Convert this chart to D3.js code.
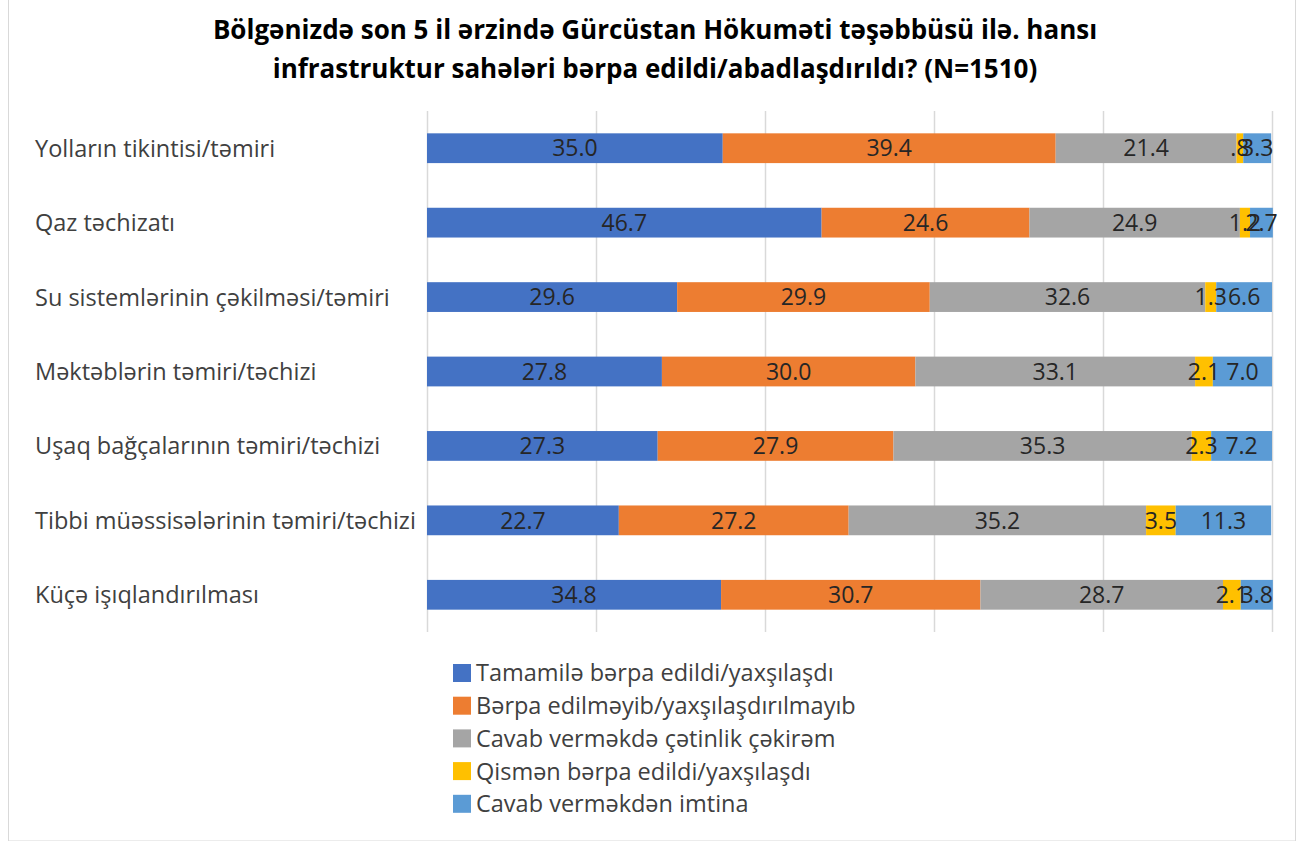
<!DOCTYPE html>
<html>
<head>
<meta charset="utf-8">
<script src="https://cdn.jsdelivr.net/npm/d3@7"></script>
<style>
  body { margin: 0; background: #fff; }
  svg text { font-family: "Open Sans", "Liberation Sans", sans-serif; }
</style>
</head>
<body>
<div id="chart"></div>
<script>
// categories, top to bottom
var categories = [
    "Yolların tikintisi/təmiri",
    "Qaz təchizatı",
    "Su sistemlərinin çəkilməsi/təmiri",
    "Məktəblərin təmiri/təchizi",
    "Uşaq bağçalarının təmiri/təchizi",
    "Tibbi müəssisələrinin təmiri/təchizi",
    "Küçə işıqlandırılması"
];

var seriesNames = [
    "Tamamilə bərpa edildi/yaxşılaşdı",
    "Bərpa edilməyib/yaxşılaşdırılmayıb",
    "Cavab verməkdə çətinlik çəkirəm",
    "Qismən bərpa edildi/yaxşılaşdı",
    "Cavab verməkdən imtina"
];

var tamamile = [35.0, 46.7, 29.6, 27.8, 27.3, 22.7, 34.8];
var berpaEdilmeyib = [39.4, 24.6, 29.9, 30.0, 27.9, 27.2, 30.7];
var cetinlik = [21.4, 24.9, 32.6, 33.1, 35.3, 35.2, 28.7];
var qismen = [0.8, 1.2, 1.3, 2.1, 2.3, 3.5, 2.1];
var imtina = [3.3, 2.7, 6.6, 7.0, 7.2, 11.3, 3.8];

var xTicks = [0, 20, 40, 60, 80, 100];

var colors = ["#4472C4", "#ED7D31", "#A5A5A5", "#FFC000", "#5B9BD5"];

var series = [tamamile, berpaEdilmeyib, cetinlik, qismen, imtina];

var width = 1299, height = 841;
var margin = { top: 111, right: 27, bottom: 209, left: 427 };

var svg = d3.select("#chart")
    .append("svg")
    .attr("width", width)
    .attr("height", height);

// outer frame
svg.append("rect")
    .attr("x", 8.5)
    .attr("y", -2)
    .attr("width", 1287)
    .attr("height", 843)
    .attr("fill", "none")
    .attr("stroke", "#d9d9d9");

// title
var title = svg.append("text")
    .attr("x", 655)
    .attr("y", 39)
    .attr("text-anchor", "middle")
    .attr("fill", "#000")
    .attr("font-weight", "bold")
    .style("font-size", "26px");
title.append("tspan").attr("x", 655).attr("dy", 0)
    .text("Bölgənizdə son 5 il ərzində Gürcüstan Hökuməti təşəbbüsü ilə. hansı");
title.append("tspan").attr("x", 655).attr("dy", 39)
    .text("infrastruktur sahələri bərpa edildi/abadlaşdırıldı? (N=1510)");

var x = d3.scaleLinear()
    .domain([0, 100])
    .range([margin.left, width - margin.right]);

var y = d3.scaleBand()
    .domain(categories)
    .range([margin.top, height - margin.bottom])
    .paddingInner(0.6)
    .paddingOuter(0.3);

// gridlines
svg.append("g")
    .selectAll("line")
    .data(xTicks)
    .join("line")
    .attr("x1", function (d) { return x(d) + 0.5; })
    .attr("x2", function (d) { return x(d) + 0.5; })
    .attr("y1", margin.top)
    .attr("y2", height - margin.bottom)
    .attr("stroke", "#d9d9d9")
    .attr("stroke-width", 1.5);

// stack values
var rows = categories.map(function (c, i) {
    var row = { cat: c };
    series.forEach(function (s, j) { row["s" + j] = s[i]; });
    return row;
});
var stack = d3.stack().keys(series.map(function (s, j) { return "s" + j; }));
var stacked = stack(rows);

var fmt = function (v) {
    var t = d3.format(".1f")(v);
    return v < 1 ? t.replace(/^0/, "") : t;
};

var layers = svg.append("g")
    .selectAll("g")
    .data(stacked)
    .join("g")
    .attr("fill", function (d, j) { return colors[j]; });

layers.selectAll("rect")
    .data(function (d) { return d; })
    .join("rect")
    .attr("x", function (d) { return x(d[0]); })
    .attr("width", function (d) { return x(d[1]) - x(d[0]); })
    .attr("y", function (d) { return y(d.data.cat); })
    .attr("height", y.bandwidth());

// data labels
var labels = svg.append("g");
stacked.forEach(function (layer, j) {
    labels.selectAll(null)
        .data(layer)
        .join("text")
        .attr("x", function (d) { return (x(d[0]) + x(d[1])) / 2; })
        .attr("y", function (d) { return y(d.data.cat) + y.bandwidth() / 2; })
        .attr("dy", "0.36em")
        .attr("text-anchor", "middle")
        .attr("fill", "#262626")
        .style("font-size", "23px")
        .text(function (d) { return fmt(d[1] - d[0]); });
});

// category labels
svg.append("g")
    .selectAll("text")
    .data(categories)
    .join("text")
    .attr("x", 35)
    .attr("y", function (d) { return y(d) + y.bandwidth() / 2; })
    .attr("dy", "0.36em")
    .attr("fill", "#404040")
    .style("font-size", "23.5px")
    .text(function (d) { return d; });

// legend
var legend = svg.append("g")
    .selectAll("g")
    .data(seriesNames)
    .join("g")
    .attr("transform", function (d, i) { return "translate(453," + (673 + i * 32.7) + ")"; });

legend.append("rect")
    .attr("x", 0)
    .attr("y", -9)
    .attr("width", 18)
    .attr("height", 18)
    .attr("fill", function (d, i) { return colors[i]; });

legend.append("text")
    .attr("x", 23)
    .attr("y", 0)
    .attr("dy", "0.36em")
    .attr("fill", "#404040")
    .style("font-size", "23.5px")
    .text(function (d) { return d; });
</script>
</body>
</html>
